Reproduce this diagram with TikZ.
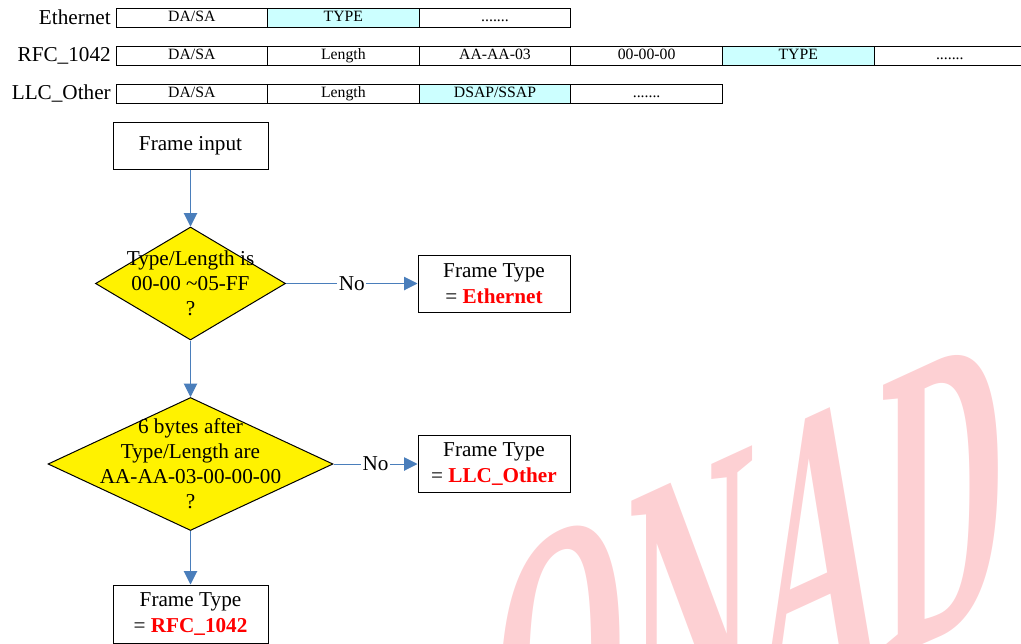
\documentclass[tikz,border=0pt]{standalone}
\usepackage{fontspec}
\setmainfont{Liberation Serif}
\usetikzlibrary{arrows.meta,shapes.geometric,positioning}
\definecolor{flowblue}{RGB}{74,126,187}
\definecolor{fieldcyan}{RGB}{204,255,255}
\definecolor{markpink}{RGB}{253,208,211}
\definecolor{typered}{RGB}{255,0,0}
\tikzset{>={Triangle[length=10pt,width=10pt]}}
\tikzset{field/.style={draw, line width=0.6pt, minimum width=113.7pt, minimum height=14.25pt, inner sep=0pt,
  text height=8pt, text depth=2.5pt, font=\fontsize{11.8}{14}\selectfont}}
\tikzset{cfield/.style={field, fill=fieldcyan}}
\tikzset{rowname/.style={anchor=east, inner sep=0pt, font=\fontsize{15.9}{19}\selectfont}}
\tikzset{proc/.style={draw, line width=0.75pt, fill=white, align=center, inner sep=0pt, font=\fontsize{15.9}{19.5}\selectfont}}
\tikzset{decision/.style={diamond, draw, line width=0.75pt, fill=yellow, inner sep=0pt}}
\tikzset{question/.style={align=center, inner sep=0pt, font=\fontsize{15.9}{18.75}\selectfont}}
\tikzset{flow/.style={->, draw=flowblue, line width=0.75pt}}
\tikzset{nolabel/.style={fill=white, inner sep=1pt, font=\fontsize{15.9}{19}\selectfont}}

\begin{document}
\begin{tikzpicture}[x=0.75pt,y=-0.75pt]
  \useasboundingbox (0,0) rectangle (1021,643);
  \clip (0,0) rectangle (1021,643);
  % watermark
  \node[anchor=base west, inner sep=0pt, text=markpink, yslant=0.46, xscale=0.414,
        font=\fontsize{317}{317}\selectfont\bfseries] (mark) at (492,842) {ONAD};

  % frame formats
  \node[rowname] (ethname) at (111,17.5) {Ethernet};
  \node[field]  (eth1) at (191.8,17.5) {DA/SA};
  \node[cfield] (eth2) at (343.4,17.5) {TYPE};
  \node[field]  (eth3) at (495,17.5) {.......};

  \node[rowname] (rfcname) at (111,55.5) {RFC\_1042};
  \node[field]  (rfc1) at (191.8,55.5) {DA/SA};
  \node[field]  (rfc2) at (343.4,55.5) {Length};
  \node[field]  (rfc3) at (495,55.5) {AA-AA-03};
  \node[field]  (rfc4) at (646.6,55.5) {00-00-00};
  \node[cfield] (rfc5) at (798.2,55.5) {TYPE};
  \node[field]  (rfc6) at (949.8,55.5) {.......};

  \node[rowname] (llcname) at (111,93.5) {LLC\_Other};
  \node[field]  (llc1) at (191.8,93.5) {DA/SA};
  \node[field]  (llc2) at (343.4,93.5) {Length};
  \node[cfield] (llc3) at (495,93.5) {DSAP/SSAP};
  \node[field]  (llc4) at (646.6,93.5) {.......};

  % flow
  \node[proc, minimum width=116.25pt, minimum height=35.25pt] (input) at (190.5,145.5) {Frame input};
  \node[decision, minimum width=142.5pt, minimum height=84.75pt] (d1) at (190.5,283.5) {};
  \node[question] (q1) at (d1) {Type/Length is\\00-00 \textasciitilde05-FF\\?};
  \node[proc, minimum width=114pt, minimum height=42.75pt] (eth) at (494,283.5)
       {Frame Type\\= \textcolor{typered}{\textbf{Ethernet}}};
  \node[decision, minimum width=213.75pt, minimum height=99.75pt] (d2) at (190.5,464) {};
  \node[question] (q2) at (d2) {6 bytes after\\Type/Length are\\AA-AA-03-00-00-00\\?};
  \node[proc, minimum width=114pt, minimum height=42.75pt] (llc) at (494,464)
       {Frame Type\\= \textcolor{typered}{\textbf{LLC\_Other}}};
  \node[proc, minimum width=116.25pt, minimum height=43.5pt] (rfc) at (190.5,614)
       {Frame Type\\= \textcolor{typered}{\textbf{RFC\_1042}}};

  \draw[flow] (input) -- (d1);
  \draw[flow] (d1) -- node[nolabel] {No} (eth);
  \draw[flow] (d1) -- (d2);
  \draw[flow] (d2) -- node[nolabel] {No} (llc);
  \draw[flow] (d2) -- (rfc);
\end{tikzpicture}
\end{document}
